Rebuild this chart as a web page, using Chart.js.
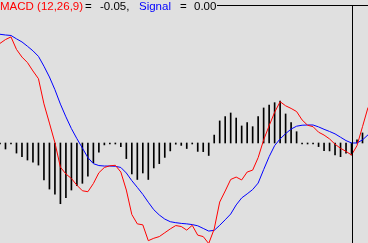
<!DOCTYPE html>
<html>
<head>
<meta charset="utf-8">
<script src="https://cdn.jsdelivr.net/npm/chart.js@4/dist/chart.umd.min.js"></script>
<style>
    html, body { margin: 0; padding: 0; background: #e0e0e0; }
    #wrap { position: relative; width: 368px; height: 243px; overflow: hidden; }
    #macdChart { position: absolute; left: 0; top: 0; }
    .lbl {
        position: absolute; top: 0; white-space: nowrap;
        font-family: "Liberation Sans", Arial, sans-serif; font-size: 11.5px; line-height: 12px;
    }
</style>
</head>
<body>
<div id="wrap">
    <canvas id="macdChart" width="368" height="243"></canvas>
    <span class="lbl" style="left:0;color:#ff0000">MACD (12,26,9)</span>
    <span class="lbl" style="left:85px;color:#000">=</span>
    <span class="lbl" id="macd-value" style="left:100px;color:#000"></span>
    <span class="lbl" style="left:139px;color:#0000ff">Signal</span>
    <span class="lbl" style="left:180px;color:#000">=</span>
    <span class="lbl" id="signal-value" style="left:194px;color:#000"></span>
</div>
<script>
// Bar index (one per period)
const periods = Array.from({ length: 68 }, (_, i) => i);

// MACD line (12,26,9)
const macdValues = [
    0.415, 0.431, 0.442, 0.390, 0.358, 0.335, 0.300, 0.268, 0.163, 0.083,
    0.001, -0.101, -0.129, -0.148, -0.176, -0.199, -0.203, -0.169, -0.124, -0.102,
    -0.095, -0.093, -0.121, -0.196, -0.298, -0.337, -0.341, -0.407, -0.397, -0.390,
    -0.374, -0.358, -0.344, -0.348, -0.363, -0.343, -0.384, -0.390, -0.419, -0.358,
    -0.246, -0.200, -0.152, -0.142, -0.154, -0.121, -0.113, -0.061, 0.013, 0.072,
    0.128, 0.172, 0.155, 0.144, 0.131, 0.096, 0.074, 0.068, 0.045, 0.033,
    0.017, -0.005, -0.022, -0.035, -0.050, -0.011, 0.068, 0.148
];

// Signal line
const signalValues = [
    0.453, 0.450, 0.448, 0.434, 0.421, 0.403, 0.384, 0.361, 0.320, 0.275,
    0.222, 0.162, 0.109, 0.060, 0.018, -0.021, -0.061, -0.086, -0.094, -0.096,
    -0.096, -0.097, -0.102, -0.125, -0.157, -0.185, -0.214, -0.247, -0.278, -0.300,
    -0.317, -0.328, -0.332, -0.335, -0.337, -0.340, -0.345, -0.356, -0.367, -0.364,
    -0.343, -0.320, -0.296, -0.258, -0.229, -0.212, -0.194, -0.167, -0.111, -0.057,
    -0.011, 0.017, 0.039, 0.058, 0.070, 0.074, 0.075, 0.075, 0.067, 0.057,
    0.048, 0.038, 0.024, 0.010, 0.000, 0.000, 0.013, 0.034
];

// Histogram bars
const histValues = [
    -0.002, -0.025, -0.002, -0.042, -0.057, -0.071, -0.080, -0.092, -0.154, -0.192,
    -0.213, -0.253, -0.228, -0.196, -0.178, -0.168, -0.138, -0.082, -0.038, -0.008,
    -0.002, -0.002, -0.015, -0.065, -0.129, -0.152, -0.125, -0.152, -0.104, -0.086,
    -0.060, -0.033, -0.005, -0.010, -0.023, -0.002, -0.035, -0.036, -0.052, 0.033,
    0.092, 0.110, 0.125, 0.104, 0.071, 0.085, 0.068, 0.110, 0.146, 0.158,
    0.168, 0.175, 0.121, 0.085, 0.047, -0.002, -0.002, -0.002, -0.015, -0.032,
    -0.033, -0.050, -0.057, -0.042, -0.050, 0.013, 0.042
];

// Crosshair position
const CURSOR_INDEX = 64;
const CURSOR_LEVEL = 0.575;

// Visible range
const X_MIN = 0;
const X_MAX = 67;
const Y_MIN = -0.4167;
const Y_MAX = 0.5958;

function toPoints(values) {
    return values.map((v, i) => ({ x: periods[i], y: v }));
}

// Draw the crosshair lines after the chart
const crosshairPlugin = {
    id: 'crosshair',
    afterDraw(chart) {
        const ctx = chart.ctx;
        const xs = chart.scales.x;
        const ys = chart.scales.y;
        const cx = Math.round(xs.getPixelForValue(CURSOR_INDEX)) + 0.5;
        const cy = Math.round(ys.getPixelForValue(CURSOR_LEVEL)) + 0.5;
        const sig = document.getElementById('signal-value');
        const startX = sig.offsetLeft + sig.offsetWidth + 1;
        ctx.save();
        ctx.strokeStyle = '#000';
        ctx.lineWidth = 1;
        ctx.beginPath();
        ctx.moveTo(startX, cy);
        ctx.lineTo(chart.width, cy);
        ctx.moveTo(cx, cy);
        ctx.lineTo(cx, chart.height);
        ctx.stroke();
        ctx.restore();
    }
};

document.getElementById('macd-value').textContent = macdValues[CURSOR_INDEX].toFixed(2) + ',';
document.getElementById('signal-value').textContent = signalValues[CURSOR_INDEX].toFixed(2);

const ctx = document.getElementById('macdChart').getContext('2d');
new Chart(ctx, {
    type: 'bar',
    data: {
        datasets: [
            {
                type: 'line',
                label: 'MACD',
                data: toPoints(macdValues),
                borderColor: '#ff0000',
                borderWidth: 1,
                pointRadius: 0,
                tension: 0,
                order: 0
            },
            {
                type: 'line',
                label: 'Signal',
                data: toPoints(signalValues),
                borderColor: '#0000ff',
                borderWidth: 1,
                pointRadius: 0,
                tension: 0,
                order: 1
            },
            {
                label: 'Histogram',
                data: toPoints(histValues),
                backgroundColor: '#000',
                barThickness: 1,
                minBarLength: 1,
                order: 2
            }
        ]
    },
    options: {
        responsive: false,
        animation: false,
        devicePixelRatio: 1,
        layout: { padding: 0 },
        plugins: {
            legend: { display: false },
            tooltip: { enabled: false }
        },
        scales: {
            x: { type: 'linear', display: false, min: X_MIN, max: X_MAX, offset: false },
            y: { display: false, min: Y_MIN, max: Y_MAX }
        }
    },
    plugins: [crosshairPlugin]
});
</script>
</body>
</html>
